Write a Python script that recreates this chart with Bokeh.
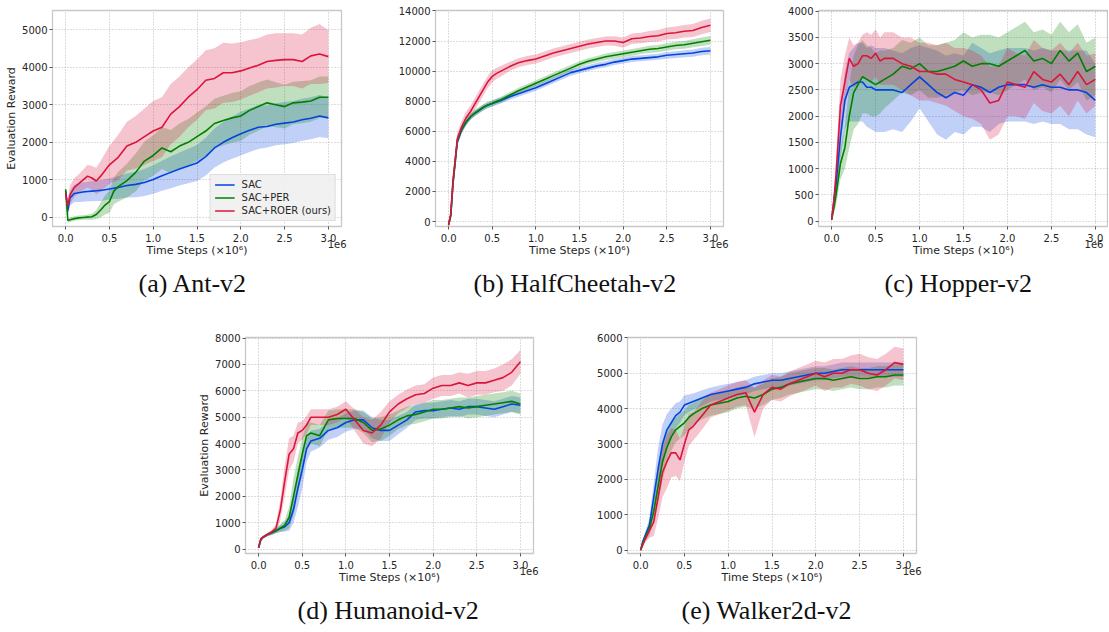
import numpy as np
from bokeh.plotting import figure
from bokeh.models import (Legend, LegendItem, Range1d, FixedTicker, LinearAxis,
                          PrintfTickFormatter, CustomJSTickFormatter, Spacer, Title)
from bokeh.layouts import row, column
from bokeh.embed import file_html
from bokeh.resources import INLINE

# ---------------- data (time steps in units of 1e6) ----------------
steps = [0.0, 0.025, 0.05, 0.1, 0.15, 0.2, 0.25, 0.3, 0.35, 0.4,
         0.45, 0.5, 0.55, 0.6, 0.7, 0.8, 0.9, 1.0, 1.1, 1.2,
         1.3, 1.4, 1.5, 1.6, 1.7, 1.8, 1.9, 2.0, 2.1, 2.2,
         2.3, 2.4, 2.5, 2.6, 2.7, 2.8, 2.9, 3.0]

series_names = ["SAC", "SAC+PER", "SAC+ROER (ours)"]
series_colors = ["#0343df", "#008000", "#dc143c"]

x_ticks = [0.0, 0.5, 1.0, 1.5, 2.0, 2.5, 3.0]

# (a) Ant-v2
ant_sac_mean = [700, 180, 520, 640, 660, 680, 690, 700, 710, 720,
                740, 760, 780, 800, 850, 880, 930, 1010, 1110, 1200,
                1290, 1370, 1450, 1620, 1850, 2000, 2120, 2230, 2320, 2400,
                2420, 2480, 2510, 2540, 2600, 2640, 2700, 2650]
ant_sac_sd = [100, 150, 200, 230, 250, 260, 260, 270, 270, 280,
              280, 280, 290, 300, 320, 340, 360, 380, 400, 420,
              440, 460, 480, 500, 520, 540, 560, 580, 580, 580,
              560, 560, 560, 560, 560, 560, 560, 540]
ant_per_mean = [750, -80, -60, -30, -10, 0, 10, 20, 80, 200,
                330, 420, 700, 820, 980, 1200, 1500, 1650, 1850, 1750,
                1900, 2000, 2150, 2300, 2500, 2580, 2650, 2700, 2850, 2950,
                3050, 3000, 2950, 3050, 3070, 3100, 3200, 3200]
ant_per_sd = [100, 60, 60, 60, 60, 60, 70, 80, 120, 200,
              250, 300, 350, 400, 450, 500, 520, 540, 560, 580,
              600, 620, 640, 650, 660, 660, 660, 660, 650, 640,
              620, 600, 580, 560, 560, 550, 550, 550]
ant_roer_mean = [650, 300, 600, 800, 900, 1000, 1100, 1050, 970, 1100,
                 1250, 1400, 1500, 1600, 1900, 2000, 2150, 2300, 2400, 2750,
                 2950, 3200, 3400, 3650, 3700, 3850, 3850, 3900, 3980, 4050,
                 4150, 4180, 4200, 4200, 4150, 4300, 4350, 4280]
ant_roer_sd = [100, 200, 250, 250, 250, 270, 300, 320, 350, 400,
               450, 500, 550, 600, 650, 700, 750, 800, 800, 800,
               800, 800, 800, 800, 800, 800, 780, 760, 740, 720,
               720, 720, 700, 700, 720, 750, 800, 700]

# (b) HalfCheetah-v2
hc_sac_mean = [-200, 400, 2500, 5300, 6100, 6600, 6950, 7200, 7400, 7600,
               7750, 7850, 7950, 8050, 8300, 8500, 8700, 8900, 9150, 9400,
               9650, 9900, 10050, 10200, 10350, 10450, 10600, 10700, 10800, 10850,
               10900, 10950, 11050, 11100, 11150, 11200, 11300, 11350]
hc_sac_sd = [50, 150, 300, 300, 250, 220, 200, 200, 200, 200,
             200, 200, 200, 200, 200, 200, 200, 200, 200, 200,
             200, 200, 200, 200, 200, 200, 200, 200, 200, 200,
             200, 200, 220, 220, 230, 240, 250, 250]
hc_per_mean = [-200, 400, 2500, 5400, 6150, 6600, 6950, 7200, 7400, 7600,
               7750, 7850, 8000, 8100, 8400, 8700, 8950, 9200, 9450, 9700,
               9950, 10200, 10450, 10650, 10800, 10950, 11050, 11150, 11250, 11350,
               11450, 11500, 11600, 11700, 11750, 11850, 11950, 12050]
hc_per_sd = [50, 150, 300, 300, 250, 220, 200, 200, 200, 200,
             200, 200, 200, 200, 200, 200, 200, 200, 200, 200,
             200, 200, 200, 200, 200, 220, 220, 220, 220, 220,
             240, 240, 250, 250, 260, 270, 280, 280]
hc_roer_mean = [-250, 500, 2700, 5500, 6300, 6900, 7300, 7800, 8300, 8800,
                9300, 9650, 9850, 10000, 10300, 10550, 10700, 10800, 11000, 11200,
                11350, 11500, 11650, 11800, 11900, 12000, 12000, 11900, 12150, 12200,
                12300, 12350, 12500, 12550, 12650, 12700, 12900, 13050]
hc_roer_sd = [50, 200, 350, 400, 400, 400, 400, 400, 400, 400,
              400, 400, 350, 350, 300, 300, 300, 300, 300, 300,
              300, 300, 300, 300, 300, 300, 320, 340, 350, 350,
              370, 380, 400, 420, 420, 440, 450, 450]

# (c) Hopper-v2
hop_sac_mean = [30, 400, 700, 1600, 2300, 2550, 2600, 2650, 2650, 2550,
                2550, 2500, 2500, 2500, 2500, 2450, 2600, 2750, 2600, 2450,
                2350, 2450, 2400, 2600, 2550, 2450, 2550, 2600, 2600, 2600,
                2550, 2600, 2550, 2550, 2500, 2500, 2450, 2300]
hop_sac_sd = [10, 100, 200, 400, 550, 650, 700, 750, 750, 750,
              800, 800, 800, 800, 750, 750, 700, 600, 700, 800,
              800, 750, 750, 800, 750, 750, 700, 700, 700, 700,
              700, 700, 700, 700, 750, 750, 800, 700]
hop_per_mean = [30, 250, 500, 1100, 1400, 2000, 2450, 2600, 2750, 2700,
                2650, 2600, 2650, 2700, 2800, 2950, 2900, 3000, 2850, 2850,
                2900, 2950, 3050, 2950, 3000, 3000, 2950, 3050, 3150, 3250,
                3050, 3100, 3000, 3250, 3050, 3200, 2850, 2950]
hop_per_sd = [10, 100, 200, 300, 400, 600, 700, 750, 700, 650,
              650, 600, 600, 550, 500, 500, 500, 500, 500, 500,
              500, 500, 550, 550, 550, 550, 550, 550, 550, 550,
              550, 550, 550, 550, 550, 550, 550, 550]
hop_roer_mean = [30, 400, 900, 2200, 2650, 3100, 2950, 3000, 3150, 3150,
                 3100, 3200, 3050, 3100, 3100, 3000, 2950, 2850, 2850, 2800,
                 2800, 2700, 2650, 2600, 2500, 2250, 2300, 2650, 2600, 2550,
                 2850, 2700, 2650, 2800, 2600, 2850, 2600, 2700]
hop_roer_sd = [10, 150, 300, 500, 500, 400, 400, 400, 400, 450,
               450, 450, 450, 500, 500, 500, 550, 550, 550, 550,
               600, 600, 650, 650, 650, 700, 650, 650, 600, 600,
               600, 600, 600, 600, 600, 550, 550, 500]

# (d) Humanoid-v2
hum_sac_mean = [50, 350, 450, 550, 620, 700, 780, 850, 1000, 1500,
                2300, 3000, 3800, 4100, 4200, 4500, 4600, 4800, 4900, 4900,
                4600, 4500, 4500, 4700, 4900, 5200, 5250, 5250, 5300, 5350,
                5300, 5400, 5400, 5350, 5300, 5400, 5500, 5450]
hum_sac_sd = [10, 30, 50, 60, 80, 100, 130, 180, 300, 500,
              700, 700, 500, 400, 350, 350, 350, 350, 350, 350,
              400, 400, 400, 350, 300, 300, 300, 300, 300, 300,
              300, 300, 300, 300, 300, 300, 300, 300]
hum_per_mean = [50, 350, 450, 550, 620, 700, 800, 900, 1200, 2000,
                2800, 3600, 4300, 4400, 4300, 4900, 4950, 4950, 4950, 4800,
                4500, 4550, 4700, 4900, 5050, 5100, 5200, 5300, 5300, 5350,
                5400, 5350, 5400, 5450, 5500, 5550, 5600, 5500]
hum_per_sd = [10, 30, 50, 60, 80, 100, 150, 200, 400, 700,
              700, 600, 500, 400, 400, 350, 350, 350, 350, 400,
              450, 450, 400, 350, 350, 350, 350, 350, 350, 350,
              350, 400, 400, 400, 400, 400, 400, 400]
hum_roer_mean = [50, 400, 450, 550, 650, 800, 1500, 2600, 3600, 3800,
                 4400, 4500, 4700, 5000, 5000, 5000, 5100, 5300, 4900, 4500,
                 4400, 4700, 5200, 5500, 5700, 5850, 5900, 6100, 6200, 6200,
                 6300, 6200, 6300, 6300, 6400, 6500, 6700, 7100]
hum_roer_sd = [10, 30, 50, 60, 80, 150, 400, 600, 600, 500,
               400, 350, 350, 300, 300, 300, 300, 300, 400, 500,
               500, 500, 400, 350, 350, 350, 350, 400, 400, 400,
               400, 450, 450, 450, 450, 500, 500, 450]

# (e) Walker2d-v2
wal_sac_mean = [0, 250, 400, 700, 1500, 2300, 3000, 3400, 3600, 3800,
                3900, 4100, 4150, 4200, 4300, 4400, 4450, 4500, 4550, 4600,
                4700, 4750, 4800, 4800, 4850, 4900, 4950, 5000, 5000, 5050,
                5100, 5100, 5100, 5100, 5100, 5100, 5100, 5100]
wal_sac_sd = [0, 50, 100, 200, 400, 600, 550, 450, 400, 350,
              300, 280, 250, 230, 220, 200, 200, 200, 200, 200,
              200, 200, 200, 200, 200, 200, 200, 200, 200, 200,
              200, 200, 200, 200, 200, 200, 200, 200]
wal_per_mean = [0, 200, 350, 600, 1100, 1800, 2500, 2900, 3200, 3400,
                3500, 3600, 3750, 3850, 4000, 4100, 4150, 4200, 4300, 4350,
                4300, 4400, 4550, 4600, 4700, 4750, 4800, 4850, 4850, 4800,
                4850, 4900, 4850, 4850, 4900, 4900, 4950, 4950]
wal_per_sd = [0, 50, 100, 200, 300, 500, 500, 450, 400, 350,
              350, 350, 350, 300, 300, 300, 300, 300, 300, 300,
              300, 300, 300, 300, 300, 300, 300, 300, 300, 300,
              300, 300, 300, 300, 300, 300, 300, 300]
wal_roer_mean = [0, 150, 300, 550, 800, 1500, 2200, 2500, 2750, 2750,
                 2550, 3000, 3400, 3500, 3800, 4100, 4200, 4300, 4400, 4450,
                 3900, 4400, 4600, 4550, 4700, 4800, 4900, 5000, 4900, 5000,
                 5000, 5100, 5100, 5000, 4950, 5100, 5300, 5250]
wal_roer_sd = [0, 50, 100, 200, 400, 600, 700, 750, 700, 650,
               600, 500, 450, 400, 400, 350, 350, 350, 350, 350,
               700, 400, 350, 350, 350, 350, 350, 350, 400, 400,
               400, 400, 450, 450, 450, 450, 450, 450]

# ---------------- styling / layout ----------------
SANS = "DejaVu Sans"
TEXT_COLOR = "#262626"


def style_axis(ax):
    ax.axis_line_color = None
    ax.minor_tick_line_color = None
    ax.major_label_text_font = SANS
    ax.major_label_text_font_size = "10px"
    ax.major_label_text_color = TEXT_COLOR
    ax.axis_label_text_font = SANS
    ax.axis_label_text_font_size = "11px"
    ax.axis_label_text_font_style = "normal"
    ax.axis_label_text_color = TEXT_COLOR


def make_panel(means, sds, ylim, yticks, caption, geom, cap_offset,
               ylabel=None, legend=False):
    w, h, bl, br, bt, bb = geom
    p = figure(width=w, height=h, min_border_left=bl, min_border_right=br,
               min_border_top=bt, min_border_bottom=bb,
               x_range=Range1d(-0.15, 3.15), y_range=Range1d(*ylim),
               output_backend="svg", toolbar_location=None)
    p.outline_line_color = "#c8c8c8"
    p.outline_line_width = 1.3
    p.background_fill_color = "white"
    p.border_fill_color = "white"

    xax = p.xaxis[0]
    yax = p.yaxis[0]
    xax.ticker = FixedTicker(ticks=x_ticks)
    xax.formatter = PrintfTickFormatter(format="%.1f")
    yax.ticker = FixedTicker(ticks=yticks)
    for ax in (xax, yax):
        style_axis(ax)
        ax.major_tick_line_color = "#555555"
        ax.major_tick_out = 3
        ax.major_tick_in = 0
        ax.major_label_standoff = 2
    xax.major_label_standoff = 4
    if ylabel:
        yax.axis_label = ylabel
        yax.axis_label_standoff = 1

    # second bottom axis carrying the offset text "1e6" and the axis title
    ax2 = LinearAxis(ticker=FixedTicker(ticks=[3.1]),
                     formatter=CustomJSTickFormatter(code="return '1e6'"),
                     axis_label="Time Steps (×10⁶)")
    style_axis(ax2)
    ax2.major_tick_line_color = None
    ax2.major_tick_out = 0
    ax2.major_tick_in = 0
    ax2.major_label_standoff = -5
    ax2.axis_label_standoff = -7
    p.add_layout(ax2, "below")

    p.grid.grid_line_color = "#a8a8a8"
    p.grid.grid_line_dash = "1 2"
    p.grid.grid_line_width = 0.8

    xs = np.array(steps)
    for m, s, c in zip(means, sds, series_colors):
        m = np.array(m, dtype=float)
        s = np.array(s, dtype=float)
        p.varea(x=xs, y1=m - s, y2=m + s, fill_color=c, fill_alpha=0.25)
    lines = []
    for m, c in zip(means, series_colors):
        r = p.line(xs, np.array(m, dtype=float), line_color=c, line_width=1.6)
        lines.append(r)

    if legend:
        items = [LegendItem(label=n, renderers=[r]) for n, r in zip(series_names, lines)]
        leg = Legend(items=items, location="bottom_right",
                     label_text_font=SANS, label_text_font_size="10px",
                     label_text_color=TEXT_COLOR,
                     glyph_width=20, glyph_height=11, label_height=11,
                     label_standoff=7, spacing=2, padding=4, margin=5,
                     background_fill_color="#f0f0f0", background_fill_alpha=0.9,
                     border_line_color="#cccccc", border_line_width=1)
        p.add_layout(leg)

    p.add_layout(Title(text=caption, align="left", offset=cap_offset, standoff=14,
                       text_font="Liberation Serif", text_font_size="26px",
                       text_font_style="normal", text_color="#111111"),
                 "below")
    return p


# geometry: width, height, border left, right, top, bottom
fa = make_panel([ant_sac_mean, ant_per_mean, ant_roer_mean],
                [ant_sac_sd, ant_per_sd, ant_roer_sd],
                (-240, 5507), [0, 1000, 2000, 3000, 4000, 5000],
                "(a) Ant-v2", (390, 320, 52, 49, 10, 94), 86,
                ylabel="Evaluation Reward", legend=True)
fb = make_panel([hc_sac_mean, hc_per_mean, hc_roer_mean],
                [hc_sac_sd, hc_per_sd, hc_roer_sd],
                (-330, 14030), [0, 2000, 4000, 6000, 8000, 10000, 12000, 14000],
                "(b) HalfCheetah-v2", (388, 320, 45, 55, 10, 94), 38)
fc = make_panel([hop_sac_mean, hop_per_mean, hop_roer_mean],
                [hop_sac_sd, hop_per_sd, hop_roer_sd],
                (-100, 4012), [0, 500, 1000, 1500, 2000, 2500, 3000, 3500, 4000],
                "(c) Hopper-v2", (330, 320, 40, 0, 10, 94), 66)
fd = make_panel([hum_sac_mean, hum_per_mean, hum_roer_mean],
                [hum_sac_sd, hum_per_sd, hum_roer_sd],
                (-165, 8020), [0, 1000, 2000, 3000, 4000, 5000, 6000, 7000, 8000],
                "(d) Humanoid-v2", (385, 311, 47, 47, 17, 75), 52,
                ylabel="Evaluation Reward")
fe = make_panel([wal_sac_mean, wal_per_mean, wal_roer_mean],
                [wal_sac_sd, wal_per_sd, wal_roer_sd],
                (-95, 6010), [0, 1000, 2000, 3000, 4000, 5000, 6000],
                "(e) Walker2d-v2", (356, 311, 47, 20, 17, 75), 54)

top = row(fa, fb, fc, spacing=0)
bottom = row(Spacer(width=195, height=311), fd, fe, spacing=0)
layout = column(top, bottom, spacing=0)

open("out.html", "w").write(file_html(layout, INLINE, title="ROER results"))
